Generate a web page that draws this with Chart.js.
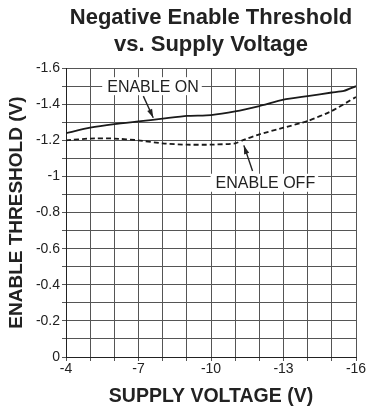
<!DOCTYPE html>
<html lang="en">
<head>
<meta charset="utf-8">
<script src="https://cdn.jsdelivr.net/npm/chart.js@4/dist/chart.umd.min.js"></script>
<style>
    body {margin:0; background:#fff}
    .chartBox {width:367px; height:408px; position:relative}
</style>
</head>
<body>

<div class="chartBox"><canvas id="canvas"></canvas></div>

<script type="text/javascript">
'use strict';

// supply voltage (V)
var supplyVoltage = [-4, -5, -6, -7, -8, -9, -10, -11, -12, -13, -14, -15, -15.5, -16];
// negative enable threshold (V)
var enableOn  = [-1.24, -1.27, -1.29, -1.305, -1.32, -1.335, -1.34, -1.36, -1.39, -1.425, -1.445, -1.465, -1.474, -1.50];

var offVoltage = [-4, -5, -6, -7, -8, -9, -10, -11, -11.3, -12, -13, -14, -15, -16];
var enableOff  = [-1.20, -1.21, -1.21, -1.20, -1.183, -1.176, -1.176, -1.183, -1.20, -1.233, -1.27, -1.307, -1.363, -1.44];

var xTickLabels = [-4, -7, -10, -13, -16];
var yTickLabels = [0, -0.2, -0.4, -0.6, -0.8, -1, -1.2, -1.4, -1.6];

// callouts: text position and arrow (from, to) in data units
var callouts = [
    {text: 'ENABLE ON',  x: -7.6,  y: -1.5,  from: [-7.2, -1.445], to: [-7.61, -1.325]},
    {text: 'ENABLE OFF', x: -12.25, y: -0.965, from: [-11.72, -1.03], to: [-11.36, -1.172]}
];

var FONT = 'Arial, "Liberation Sans", sans-serif';

function toPoints(xs, ys) {
    return xs.map(function (x, i) { return {x: x, y: ys[i]}; });
}

var calloutPlugin = {
    id: 'callouts',
    afterDatasetsDraw: function (chart) {
        var ctx = chart.ctx, xs = chart.scales.x, ys = chart.scales.y;
        ctx.save();
        ctx.font = '16px ' + FONT;
        ctx.textAlign = 'center';
        ctx.textBaseline = 'middle';
        callouts.forEach(function (c) {
            var px = xs.getPixelForValue(c.x), py = ys.getPixelForValue(c.y);
            var w = ctx.measureText(c.text).width;
            ctx.fillStyle = '#fff';
            ctx.fillRect(px - w / 2 - 5, py - 9, w + 8, 18);
            ctx.fillStyle = '#222';
            ctx.fillText(c.text, px, py + 1);
            var x1 = xs.getPixelForValue(c.from[0]), y1 = ys.getPixelForValue(c.from[1]);
            var x2 = xs.getPixelForValue(c.to[0]), y2 = ys.getPixelForValue(c.to[1]);
            ctx.strokeStyle = '#222';
            ctx.lineWidth = 1.4;
            ctx.beginPath();
            ctx.moveTo(x1, y1);
            ctx.lineTo(x2, y2);
            ctx.stroke();
            var a = Math.atan2(y2 - y1, x2 - x1), L = 9, s = 0.3;
            ctx.beginPath();
            ctx.moveTo(x2, y2);
            ctx.lineTo(x2 - L * Math.cos(a - s), y2 - L * Math.sin(a - s));
            ctx.lineTo(x2 - L * Math.cos(a + s), y2 - L * Math.sin(a + s));
            ctx.closePath();
            ctx.fillStyle = '#222';
            ctx.fill();
        });
        ctx.restore();
    }
};

var tickFont = {family: FONT, size: 14};
var titleFont = {family: FONT, size: 19, weight: 'bold'};

function drawGraphs() {
    new Chart(document.getElementById('canvas'), {
        type: 'line',
        data: {
            datasets: [{
                label: 'ENABLE ON',
                data: toPoints(supplyVoltage, enableOn),
                borderColor: '#1a1a1a',
                borderWidth: 1.8,
                pointRadius: 0,
                fill: false,
                tension: 0.2
            }, {
                label: 'ENABLE OFF',
                data: toPoints(offVoltage, enableOff),
                borderColor: '#1a1a1a',
                borderWidth: 1.8,
                borderDash: [5, 3],
                pointRadius: 0,
                fill: false,
                tension: 0.2
            }]
        },
        options: {
            responsive: true,
            maintainAspectRatio: false,
            animation: false,
            layout: {padding: {left: 0, right: 11, top: 0, bottom: 0}},
            plugins: {
                legend: {display: false},
                tooltip: {enabled: false},
                title: {
                    display: true,
                    fullSize: false,
                    text: ['Negative Enable Threshold', 'vs. Supply Voltage'],
                    color: '#222',
                    font: {family: FONT, size: 22, weight: 'bold', lineHeight: 1.23},
                    padding: {top: 4, bottom: 10}
                }
            },
            scales: {
                x: {
                    type: 'linear',
                    min: -16,
                    max: -4,
                    reverse: true,
                    border: {color: '#222', width: 1},
                    grid: {color: '#555', lineWidth: 1, tickLength: 4},
                    ticks: {
                        stepSize: 1,
                        color: '#222',
                        font: tickFont,
                        padding: 0,
                        maxRotation: 0,
                        autoSkip: false,
                        callback: function (v) {
                            return xTickLabels.indexOf(v) >= 0 ? String(v) : '';
                        }
                    },
                    title: {display: true, text: 'SUPPLY VOLTAGE (V)', color: '#222', font: {family: FONT, size: 19.5, weight: 'bold'}, padding: {top: 0, bottom: 0}},
                    afterFit: function (s) { s.height = 51; }
                },
                y: {
                    type: 'linear',
                    min: -1.6,
                    max: 0,
                    reverse: true,
                    border: {color: '#222', width: 1},
                    grid: {color: '#555', lineWidth: 1, tickLength: 4},
                    ticks: {
                        stepSize: 0.1,
                        color: '#222',
                        font: tickFont,
                        padding: 2,
                        autoSkip: false,
                        callback: function (v) {
                            var r = Math.round(v * 10) / 10;
                            return yTickLabels.indexOf(r) >= 0 ? String(r) : '';
                        }
                    },
                    title: {display: true, text: 'ENABLE THRESHOLD (V)', color: '#222', font: titleFont, padding: {top: 5, bottom: 0}},
                    afterFit: function (s) { s.width = 66; }
                }
            }
        },
        plugins: [calloutPlugin]
    });
}
window.onload = function () {
    drawGraphs();
};
</script>
</body>
</html>
